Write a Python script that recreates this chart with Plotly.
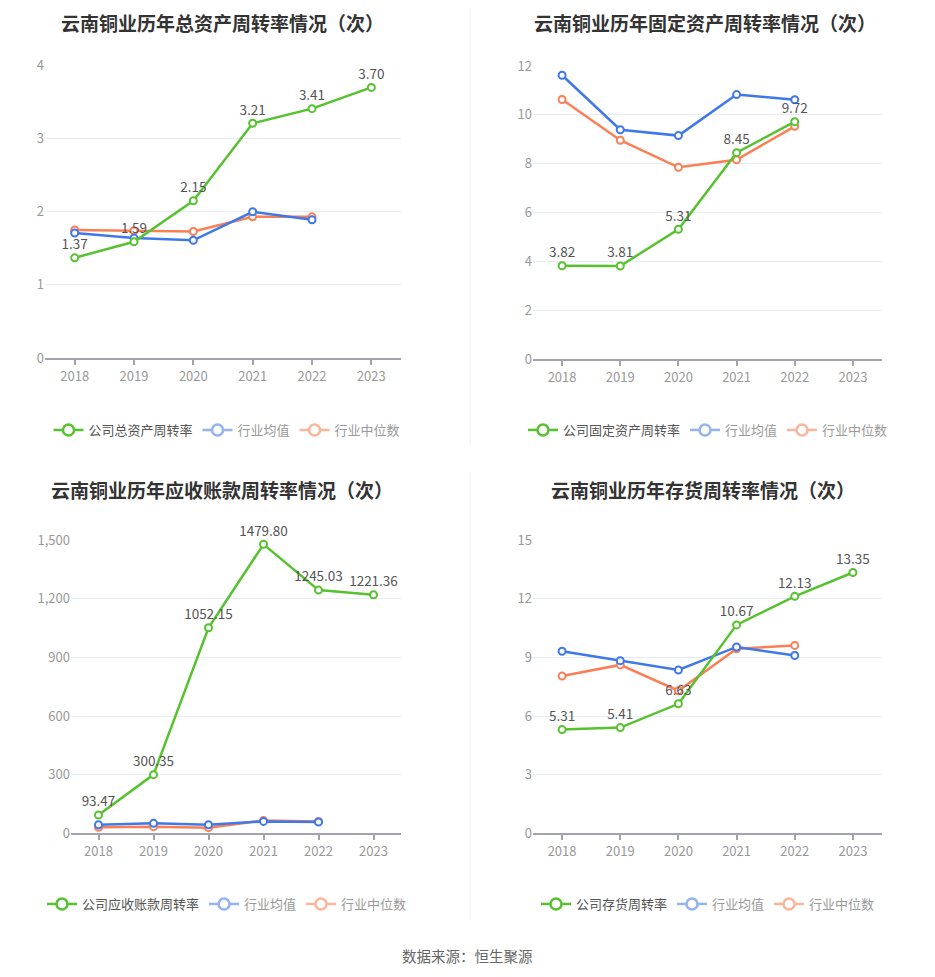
import plotly.graph_objects as go

# page body has an 8px margin; figure sized to fit inside the 935x977 window
OFF = 8
W, H = 935 - 2 * OFF, 977 - 2 * OFF

years = ["2018", "2019", "2020", "2021", "2022", "2023"]
ind_years = years[:5]

# 总资产周转率
total_company = [1.37, 1.59, 2.15, 3.21, 3.41, 3.70]
total_avg = [1.71, 1.64, 1.61, 2.00, 1.89]
total_med = [1.75, 1.74, 1.73, 1.93, 1.93]

# 固定资产周转率
fixed_company = [3.82, 3.81, 5.31, 8.45, 9.72]
fixed_avg = [11.62, 9.39, 9.15, 10.83, 10.62]
fixed_med = [10.63, 8.96, 7.85, 8.16, 9.53]

# 应收账款周转率
recv_company = [93.47, 300.35, 1052.15, 1479.80, 1245.03, 1221.36]
recv_avg = [44, 51, 44, 61, 58]
recv_med = [31, 34, 29, 65, 61]

# 存货周转率
inv_company = [5.31, 5.41, 6.63, 10.67, 12.13, 13.35]
inv_avg = [9.32, 8.84, 8.36, 9.54, 9.10]
inv_med = [8.05, 8.62, 7.30, 9.45, 9.62]

titles = ["云南铜业历年总资产周转率情况（次）", "云南铜业历年固定资产周转率情况（次）",
          "云南铜业历年应收账款周转率情况（次）", "云南铜业历年存货周转率情况（次）"]
company_names = ["公司总资产周转率", "公司固定资产周转率", "公司应收账款周转率", "公司存货周转率"]
avg_name = "行业均值"
med_name = "行业中位数"

GREEN = "#57c22f"
BLUE = "#3f78ea"
ORANGE = "#fb7f55"
GREEN_L = "#57c22f"
BLUE_L = "#93b3f4"
ORANGE_L = "#fcb59a"
FONT = "Noto Sans CJK SC"


def px(x):
    return (x - OFF) / W


def py(y):
    return (H - (y - OFF)) / H


panels = [
    dict(c=total_company, a=total_avg, m=total_med, x0=45, x1=401, y0=358, y1=65.5, rng=[0, 4], dt=1, fmt=""),
    dict(c=fixed_company, a=fixed_avg, m=fixed_med, x0=533, x1=882, y0=359, y1=66, rng=[0, 12], dt=2, fmt=""),
    dict(c=recv_company, a=recv_avg, m=recv_med, x0=71, x1=401, y0=833.3, y1=540.3, rng=[0, 1500], dt=300, fmt=","),
    dict(c=inv_company, a=inv_avg, m=inv_med, x0=533, x1=882, y0=833.3, y1=540.3, rng=[0, 15], dt=3, fmt=""),
]
# (x centre, y, vertical anchor): top titles anchored to the page top so they are not clipped
title_pos = [(222, 8, "top"), (705, 8, "top"), (222, 489, "middle"), (703, 489, "middle")]
legend_pos = [(227, 430), (708, 430), (227, 904), (708, 904)]

fig = go.Figure()
layout = {}
annotations = []

for i, p in enumerate(panels):
    n = "" if i == 0 else str(i + 1)
    xa, ya = "x" + n, "y" + n
    lg = "legend" if i == 0 else "legend" + str(i + 1)
    marker = lambda col: dict(symbol="circle", size=7, color="white", line=dict(color=col, width=2))
    fig.add_trace(go.Scatter(x=ind_years, y=p["m"], mode="lines+markers", line=dict(color=ORANGE, width=2.5),
                             marker=marker(ORANGE), showlegend=False, xaxis=xa, yaxis=ya))
    fig.add_trace(go.Scatter(x=ind_years, y=p["a"], mode="lines+markers", line=dict(color=BLUE, width=2.5),
                             marker=marker(BLUE), showlegend=False, xaxis=xa, yaxis=ya))
    cy = years[:len(p["c"])]
    fig.add_trace(go.Scatter(x=cy, y=p["c"], mode="lines+markers+text", line=dict(color=GREEN, width=2.5),
                             marker=marker(GREEN), text=[f"{v:.2f}" for v in p["c"]], textposition="top center",
                             textfont=dict(color="#555555", size=13.5, family=FONT), cliponaxis=False,
                             showlegend=False, xaxis=xa, yaxis=ya))
    for name, col, tcol in [(company_names[i], GREEN_L, "#555555"), (avg_name, BLUE_L, "#999999"), (med_name, ORANGE_L, "#999999")]:
        fig.add_trace(go.Scatter(x=[None], y=[None], mode="lines+markers", name=f"<span style='color:{tcol}'>{name}</span>",
                                 line=dict(color=col, width=2.5),
                                 marker=dict(symbol="circle", size=11, color="white", line=dict(color=col, width=2.5)),
                                 legend=lg, xaxis=xa, yaxis=ya))
    layout["xaxis" + n] = dict(domain=[px(p["x0"]), px(p["x1"])], anchor=ya, type="category", range=[-0.5, 5.5],
                               categoryorder="array", categoryarray=years, automargin=False,
                               showline=True, linecolor="#a3a3ad", linewidth=2, ticks="outside", ticklen=5,
                               tickcolor="#a3a3ad", tickwidth=1.5, showgrid=False, fixedrange=True,
                               tickfont=dict(color="#999999", size=13, family=FONT))
    layout["yaxis" + n] = dict(domain=[py(p["y0"]), py(p["y1"])], anchor=xa, range=p["rng"], dtick=p["dt"],
                               tick0=0, tickformat=p["fmt"], showgrid=True, gridcolor="#e7ecf5", gridwidth=1,
                               zeroline=False, showline=False, ticks="", fixedrange=True, automargin=False,
                               tickfont=dict(color="#999999", size=13, family=FONT))
    lx, ly = legend_pos[i]
    layout[lg] = dict(orientation="h", x=px(lx), xanchor="center", y=py(ly), yanchor="middle",
                      font=dict(size=13, family=FONT, color="#555555"), bgcolor="rgba(0,0,0,0)",
                      itemwidth=30, tracegroupgap=0, itemclick=False, itemdoubleclick=False)
    tx, ty, tanc = title_pos[i]
    annotations.append(dict(text=f"<b>{titles[i]}</b>", x=px(tx), y=py(ty), xref="paper", yref="paper",
                            xanchor="center", yanchor=tanc, showarrow=False, borderpad=0,
                            font=dict(size=19, family=FONT, color="#333333")))

annotations.append(dict(text="数据来源：恒生聚源", x=px(467), y=py(955), xref="paper", yref="paper",
                        xanchor="center", yanchor="middle", showarrow=False,
                        font=dict(size=14.5, family=FONT, color="#666666")))

shapes = [
    dict(type="line", xref="paper", yref="paper", x0=px(470), x1=px(470), y0=py(8), y1=py(446),
         line=dict(color="#f0f0f0", width=1)),
    dict(type="line", xref="paper", yref="paper", x0=px(470), x1=px(470), y0=py(473), y1=py(920),
         line=dict(color="#f0f0f0", width=1)),
]

fig.update_layout(width=W, height=H, margin=dict(l=0, r=0, t=0, b=0), paper_bgcolor="white",
                  plot_bgcolor="white", annotations=annotations, shapes=shapes,
                  font=dict(family=FONT), hovermode=False, **layout)

fig.write_html("out.html")
